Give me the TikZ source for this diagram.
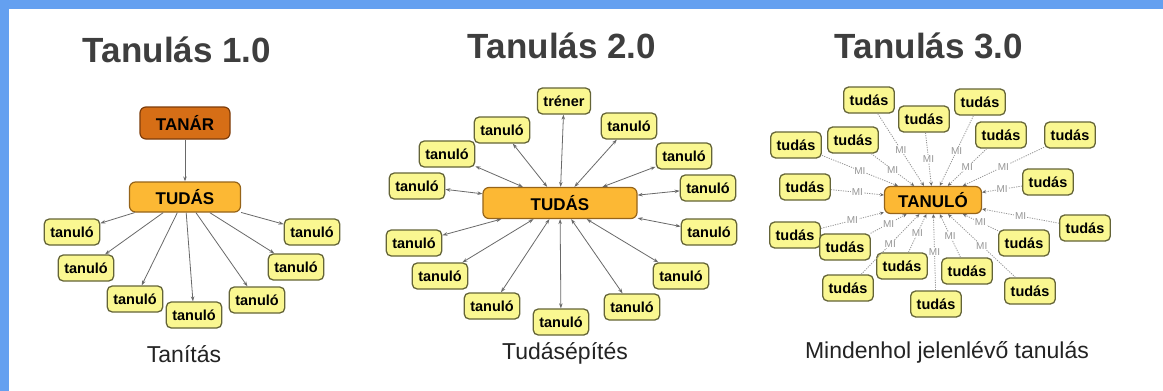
\documentclass[tikz,border=0pt]{standalone}
\usepackage{fontspec}
\setmainfont{Liberation Sans}
\usepackage{tikz}
\usetikzlibrary{arrows.meta}
\definecolor{keretkek}{RGB}{100,160,240}
\definecolor{kissarga}{RGB}{250,247,145}
\definecolor{kisszel}{RGB}{100,100,55}
\definecolor{fosarga}{RGB}{252,184,52}
\definecolor{foszel}{RGB}{150,100,25}
\definecolor{tanarnarancs}{RGB}{214,110,22}
\definecolor{tanarszel}{RGB}{125,60,10}
\definecolor{cimszurke}{RGB}{62,62,62}
\definecolor{alszurke}{RGB}{35,35,35}
\definecolor{vonal}{RGB}{105,105,105}
\definecolor{pontszurke}{RGB}{150,150,150}

\begin{document}
\begin{tikzpicture}[x=1pt, y=-1pt,
	kis/.style={draw=kisszel, fill=kissarga, rounded corners=5pt, line width=1.3pt, font=\bfseries\fontsize{14.5}{16}\selectfont, inner xsep=6pt, inner ysep=0pt, minimum height=26pt},
	fo/.style={draw=foszel, fill=fosarga, rounded corners=6pt, line width=1.2pt, font=\bfseries\fontsize{17}{19}\selectfont, inner sep=0pt},
	cim/.style={font=\bfseries\fontsize{35}{40}\selectfont, text=cimszurke},
	alcim/.style={font=\fontsize{23}{26}\selectfont, text=alszurke, anchor=base},
	nyil/.style={draw=vonal, line width=0.8pt, -{Stealth[length=5pt,width=3.5pt]}},
	ketnyil/.style={draw=vonal, line width=0.8pt, {Stealth[length=5pt,width=3.5pt]}-{Stealth[length=5pt,width=3.5pt]}},
	minyil/.style={draw=pontszurke, line width=0.8pt, dash pattern=on 1.2pt off 1.2pt, -{Stealth[length=4pt,width=3.5pt,color=vonal]}},
	mifelirat/.style={fill=white, inner sep=0.6pt, text=pontszurke, font=\fontsize{10}{11}\selectfont}]
	\useasboundingbox (0,0) rectangle (1163,391);
	\fill[keretkek] (0,0) rectangle (1163,391);
	\fill[white] (9,9) rectangle (1163,391);
	
	\node[cim] (cim1) at (177,50) {Tanulás 1.0};
	\node[cim] (cim2) at (562,46) {Tanulás 2.0};
	\node[cim] (cim3) at (929,46) {Tanulás 3.0};
	
	\node[alcim] (al1) at (184,362) {Tanítás};
	\node[alcim] (al2) at (565,359) {Tudásépítés};
	\node[alcim] (al3) at (947,358) {Mindenhol jelenlévő tanulás};
	
	\node[fo, fill=tanarnarancs, draw=tanarszel, minimum width=90pt, minimum height=32pt] (p1tanar) at (185,123) {TANÁR};
	\node[fo, minimum width=111pt, minimum height=30pt] (p1tudas) at (185,197) {TUDÁS};
	\node[kis] (p1t1) at (72,232) {tanuló};
	\node[kis] (p1t2) at (86,268) {tanuló};
	\node[kis] (p1t3) at (135,299) {tanuló};
	\node[kis] (p1t4) at (194,315) {tanuló};
	\node[kis] (p1t5) at (257,300) {tanuló};
	\node[kis] (p1t6) at (296,267) {tanuló};
	\node[kis] (p1t7) at (312,232) {tanuló};
	
	\draw[nyil] (p1tanar) -- (p1tudas);
	\draw[nyil] (p1tudas) -- (p1t1);
	\draw[nyil] (p1tudas) -- (p1t2);
	\draw[nyil] (p1tudas) -- (p1t3);
	\draw[nyil] (p1tudas) -- (p1t4);
	\draw[nyil] (p1tudas) -- (p1t5);
	\draw[nyil] (p1tudas) -- (p1t6);
	\draw[nyil] (p1tudas) -- (p1t7);
	
	\node[fo, minimum width=154pt, minimum height=31pt] (p2tudas) at (560,203) {TUDÁS};
	\node[kis] (p2trener) at (564,101) {tréner};
	\node[kis] (p2t1) at (502,130) {tanuló};
	\node[kis] (p2t2) at (447,154) {tanuló};
	\node[kis] (p2t3) at (417,186) {tanuló};
	\node[kis] (p2t4) at (414,243) {tanuló};
	\node[kis] (p2t5) at (440,276) {tanuló};
	\node[kis] (p2t6) at (492,306) {tanuló};
	\node[kis] (p2t7) at (561,322) {tanuló};
	\node[kis] (p2t8) at (632,307) {tanuló};
	\node[kis] (p2t9) at (681,276) {tanuló};
	\node[kis] (p2t10) at (709,232) {tanuló};
	\node[kis] (p2t11) at (708,188) {tanuló};
	\node[kis] (p2t12) at (684,156) {tanuló};
	\node[kis] (p2t13) at (629,126) {tanuló};
	
	\draw[ketnyil] (p2tudas) -- (p2trener);
	\draw[ketnyil] (p2tudas) -- (p2t1);
	\draw[ketnyil] (p2tudas) -- (p2t2);
	\draw[ketnyil] (p2tudas) -- (p2t3);
	\draw[ketnyil] (p2tudas) -- (p2t4);
	\draw[ketnyil] (p2tudas) -- (p2t5);
	\draw[ketnyil] (p2tudas) -- (p2t6);
	\draw[ketnyil] (p2tudas) -- (p2t7);
	\draw[ketnyil] (p2tudas) -- (p2t8);
	\draw[ketnyil] (p2tudas) -- (p2t9);
	\draw[ketnyil] (p2tudas) -- (p2t10);
	\draw[ketnyil] (p2tudas) -- (p2t11);
	\draw[ketnyil] (p2tudas) -- (p2t12);
	\draw[ketnyil] (p2tudas) -- (p2t13);
	
	\node[fo, minimum width=97pt, minimum height=27pt] (p3tanulo) at (933,200) {TANULÓ};
	\node[kis] (p3t1) at (869,100) {tudás};
	\node[kis] (p3t2) at (980,102) {tudás};
	\node[kis] (p3t3) at (924,119) {tudás};
	\node[kis] (p3t4) at (853,140) {tudás};
	\node[kis] (p3t5) at (1001,135) {tudás};
	\node[kis] (p3t6) at (1070,135) {tudás};
	\node[kis] (p3t7) at (796,145) {tudás};
	\node[kis] (p3t8) at (805,187) {tudás};
	\node[kis] (p3t9) at (1048,182) {tudás};
	\node[kis] (p3t10) at (1085,228) {tudás};
	\node[kis] (p3t11) at (795,235) {tudás};
	\node[kis] (p3t12) at (845,247) {tudás};
	\node[kis] (p3t13) at (1024,243) {tudás};
	\node[kis] (p3t14) at (902,266) {tudás};
	\node[kis] (p3t15) at (967,271) {tudás};
	\node[kis] (p3t16) at (848,288) {tudás};
	\node[kis] (p3t17) at (1030,291) {tudás};
	\node[kis] (p3t18) at (936,304) {tudás};
	
	\draw[minyil] (p3t1) -- node[mifelirat] {MI} (p3tanulo);
	\draw[minyil] (p3t2) -- node[mifelirat] {MI} (p3tanulo);
	\draw[minyil] (p3t3) -- node[mifelirat] {MI} (p3tanulo);
	\draw[minyil] (p3t4) -- node[mifelirat] {MI} (p3tanulo);
	\draw[minyil] (p3t5) -- node[mifelirat] {MI} (p3tanulo);
	\draw[minyil] (p3t6) -- node[mifelirat] {MI} (p3tanulo);
	\draw[minyil] (p3t7) -- node[mifelirat] {MI} (p3tanulo);
	\draw[minyil] (p3t8) -- node[mifelirat] {MI} (p3tanulo);
	\draw[minyil] (p3t9) -- node[mifelirat] {MI} (p3tanulo);
	\draw[minyil] (p3t10) -- node[mifelirat] {MI} (p3tanulo);
	\draw[minyil] (p3t11) -- node[mifelirat] {MI} (p3tanulo);
	\draw[minyil] (p3t12) -- node[mifelirat] {MI} (p3tanulo);
	\draw[minyil] (p3t13) -- node[mifelirat] {MI} (p3tanulo);
	\draw[minyil] (p3t14) -- node[mifelirat] {MI} (p3tanulo);
	\draw[minyil] (p3t15) -- node[mifelirat] {MI} (p3tanulo);
	\draw[minyil] (p3t16) -- node[mifelirat] {MI} (p3tanulo);
	\draw[minyil] (p3t17) -- node[mifelirat] {MI} (p3tanulo);
	\draw[minyil] (p3t18) -- node[mifelirat] {MI} (p3tanulo);
\end{tikzpicture}
\end{document}
